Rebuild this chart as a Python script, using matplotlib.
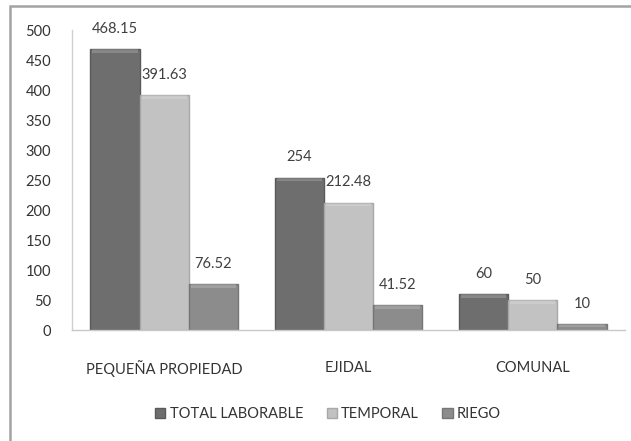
import matplotlib
matplotlib.use("Agg")
import matplotlib.pyplot as plt
from matplotlib.patches import Rectangle
import numpy as np

plt.rcParams['font.family'] = ['Lato', 'DejaVu Sans']

categories = ["PEQUEÑA PROPIEDAD", "EJIDAL", "COMUNAL"]
series_names = ["TOTAL LABORABLE", "TEMPORAL", "RIEGO"]
total_laborable = [468.15, 254, 60]
temporal = [391.63, 212.48, 50]
riego = [76.52, 41.52, 10]
labels_tl = ["468.15", "254", "60"]
labels_tmp = ["391.63", "212.48", "50"]
labels_rg = ["76.52", "41.52", "10"]

colors = ["#6e6e6e", "#c2c2c2", "#8c8c8c"]
edges = ["#5a5a5a", "#a8a8a8", "#767676"]

fig = plt.figure(figsize=(6.31, 4.41), dpi=100)
ax = fig.add_axes([72 / 631, 1 - 330 / 441, (625 - 72) / 631, 300 / 441])

# outer chart border (runs off right and bottom edges)
fig.patches.append(Rectangle((9.5 / 631, -0.05), 1.2, 1 - 5.5 / 441 + 0.05,
                             transform=fig.transFigure, fill=False,
                             edgecolor="#a3a3a3", linewidth=1.8))

x = np.arange(len(categories))
w = 0.8 / 3
all_series = [total_laborable, temporal, riego]
all_labels = [labels_tl, labels_tmp, labels_rg]
for i, (vals, labs) in enumerate(zip(all_series, all_labels)):
    pos = x + (i - 1) * w
    ax.bar(pos, vals, width=w, color=colors[i], edgecolor=edges[i],
           linewidth=1.0, label=series_names[i], zorder=2)
    # light bevel on top of each bar
    for p, v in zip(pos, vals):
        bev = min(6, v * 0.5)
        ax.bar(p, bev, bottom=v - bev, width=w * 0.92, color="white",
               alpha=0.18, linewidth=0, zorder=3)
    for p, v, t in zip(pos, vals, labs):
        ax.text(p, v + 22, t, ha="center", va="bottom", fontsize=10.5,
                color="#404040")

ax.set_xlim(-0.5, 2.5)
ax.set_ylim(0, 500)
ax.set_yticks(np.arange(0, 501, 50))
ax.set_xticks(x)
ax.set_xticklabels(categories)
ax.tick_params(axis="y", length=0, labelsize=10.5, labelcolor="#333333", pad=15)
ax.tick_params(axis="x", length=0, labelsize=10.5, labelcolor="#333333", pad=22)
for s in ["top", "right"]:
    ax.spines[s].set_visible(False)
ax.spines["left"].set_color("#d0d0d0")
ax.spines["bottom"].set_color("#c8c8c8")
ax.spines["left"].set_linewidth(1.0)
ax.spines["bottom"].set_linewidth(1.0)

leg = fig.legend(loc="center", bbox_to_anchor=(0.52, 1 - 414 / 441), ncol=3,
                 frameon=False, fontsize=10.5, handlelength=0.7,
                 handleheight=0.7, handletextpad=0.3, columnspacing=1.6)
for t in leg.get_texts():
    t.set_color("#333333")

fig.savefig("out.png", dpi=100, facecolor="white")
